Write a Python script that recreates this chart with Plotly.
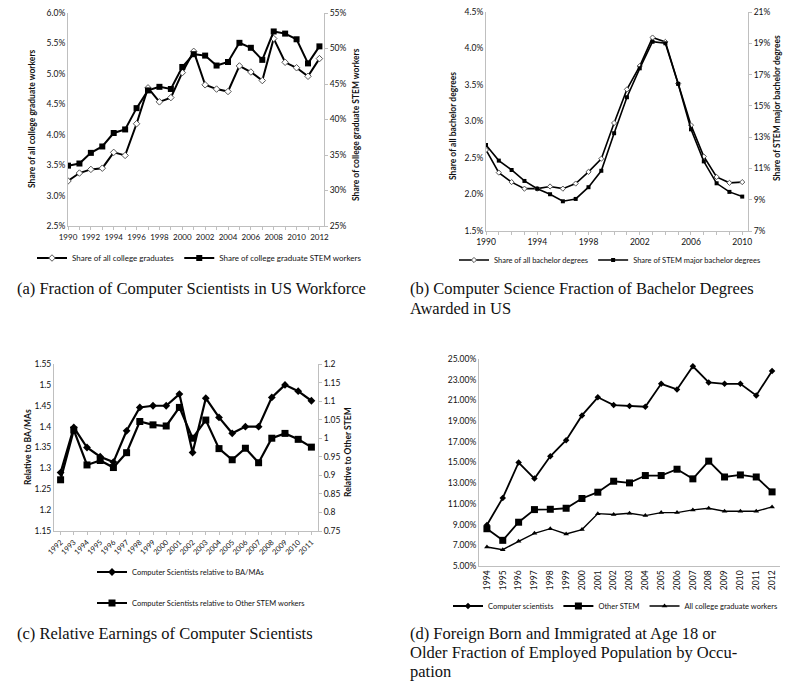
import plotly.graph_objects as go

# ---------------- data ----------------
# (a) Fraction of Computer Scientists in US Workforce
years_a = list(range(1990, 2013))
share_all_grad = [3.24, 3.37, 3.43, 3.45, 3.71, 3.66, 4.18, 4.77, 4.54, 4.61, 5.02, 5.37,
                  4.82, 4.75, 4.71, 5.13, 5.03, 4.89, 5.58, 5.19, 5.10, 4.96, 5.25]
share_stem_workers = [33.5, 33.8, 35.3, 36.2, 38.1, 38.6, 41.6, 44.1, 44.6, 44.3, 47.4, 49.2,
                      49.0, 47.6, 48.1, 50.8, 50.1, 48.4, 52.4, 52.1, 51.3, 47.9, 50.3]

# (b) Computer Science Fraction of Bachelor Degrees
years_b = list(range(1990, 2011))
share_all_ba = [2.61, 2.30, 2.17, 2.08, 2.08, 2.11, 2.08, 2.15, 2.31, 2.49, 2.98, 3.44,
                3.76, 4.15, 4.09, 3.52, 2.95, 2.52, 2.24, 2.16, 2.17]
share_stem_ba = [12.5, 11.5, 10.9, 10.2, 9.7, 9.35, 8.9, 9.05, 9.8, 10.85, 13.25, 15.55,
                 17.4, 19.1, 19.0, 16.4, 13.5, 11.45, 10.05, 9.5, 9.2]

# (c) Relative Earnings of Computer Scientists
years_c = [str(y) for y in range(1992, 2012)]
rel_ba_ma = [1.29, 1.398, 1.35, 1.328, 1.315, 1.39, 1.446, 1.45, 1.45, 1.478, 1.338, 1.468,
             1.422, 1.384, 1.40, 1.40, 1.47, 1.50, 1.485, 1.462]
rel_other_stem = [0.888, 1.022, 0.928, 0.94, 0.921, 0.961, 1.045, 1.036, 1.033, 1.083, 1.0,
                  1.049, 0.972, 0.942, 0.973, 0.934, 1.0, 1.013, 0.997, 0.976]

# (d) Foreign born fraction by occupation
years_d = [str(y) for y in range(1994, 2013)]
comp_sci = [8.96, 11.58, 15.0, 13.45, 15.6, 17.16, 19.55, 21.3, 20.55, 20.45, 20.39, 22.6,
            22.06, 24.3, 22.74, 22.6, 22.6, 21.48, 23.84]
other_stem = [8.6, 7.48, 9.23, 10.45, 10.48, 10.58, 11.52, 12.13, 13.19, 13.03, 13.74, 13.74,
              14.35, 13.42, 15.13, 13.6, 13.8, 13.6, 12.16]
all_grad_workers = [6.84, 6.58, 7.39, 8.16, 8.61, 8.1, 8.52, 10.06, 9.97, 10.1, 9.87, 10.16,
                    10.16, 10.42, 10.58, 10.29, 10.29, 10.29, 10.71]

# ---------------- helpers ----------------
W, H = 800, 687


def px(x):
    return x / W


def py(y):
    return 1 - y / H


SANS = "Lato, Roboto, Arial, sans-serif"
SERIF = "'Liberation Serif', 'Times New Roman', serif"
AX = "#bfbfbf"
TXT = "#111111"

fig = go.Figure()

line_k = dict(color="black", width=2)

# (a)
fig.add_trace(go.Scatter(x=years_a, y=share_all_grad, mode="lines+markers", name="Share of all college graduates",
                         line=line_k, marker=dict(symbol="diamond", size=5, color="white",
                                                  line=dict(color="#555", width=1)),
                         xaxis="x", yaxis="y", legend="legend"))
fig.add_trace(go.Scatter(x=years_a, y=share_stem_workers, mode="lines+markers",
                         name="Share of college graduate STEM workers",
                         line=line_k, marker=dict(symbol="square", size=6, color="black"),
                         xaxis="x", yaxis="y2", legend="legend"))
# (b)
fig.add_trace(go.Scatter(x=years_b, y=share_all_ba, mode="lines+markers", name="Share of all bachelor degrees",
                         line=dict(color="black", width=1.6),
                         marker=dict(symbol="diamond", size=4, color="white", line=dict(color="#555", width=1)),
                         xaxis="x2", yaxis="y3", legend="legend2"))
fig.add_trace(go.Scatter(x=years_b, y=share_stem_ba, mode="lines+markers",
                         name="Share of STEM major bachelor degrees",
                         line=dict(color="black", width=1.6), marker=dict(symbol="square", size=4, color="black"),
                         xaxis="x2", yaxis="y4", legend="legend2"))
# (c)
fig.add_trace(go.Scatter(x=years_c, y=rel_ba_ma, mode="lines+markers", name="Computer Scientists relative to BA/MAs",
                         line=dict(color="black", width=2.2),
                         marker=dict(symbol="diamond", size=6, color="black"),
                         xaxis="x3", yaxis="y5", legend="legend3"))
fig.add_trace(go.Scatter(x=years_c, y=rel_other_stem, mode="lines+markers",
                         name="Computer Scientists relative to Other STEM workers",
                         line=dict(color="black", width=2.2), marker=dict(symbol="square", size=7, color="black"),
                         xaxis="x3", yaxis="y6", legend="legend4"))
# (d)
fig.add_trace(go.Scatter(x=years_d, y=comp_sci, mode="lines+markers", name="Computer scientists",
                         line=dict(color="black", width=1.8),
                         marker=dict(symbol="diamond", size=5, color="black"),
                         xaxis="x4", yaxis="y7", legend="legend5"))
fig.add_trace(go.Scatter(x=years_d, y=other_stem, mode="lines+markers", name="Other STEM",
                         line=dict(color="black", width=1.8), marker=dict(symbol="square", size=7, color="black"),
                         xaxis="x4", yaxis="y7", legend="legend5"))
fig.add_trace(go.Scatter(x=years_d, y=all_grad_workers, mode="lines+markers", name="All college graduate workers",
                         line=dict(color="black", width=1.4),
                         marker=dict(symbol="triangle-up", size=5, color="black"),
                         xaxis="x4", yaxis="y7", legend="legend5"))

tickfont = dict(family=SANS, size=8.5, color=TXT)
base_ax = dict(showgrid=False, zeroline=False, showline=True, linecolor=AX, linewidth=1,
               ticks="outside", ticklen=3, tickcolor=AX, tickfont=tickfont)

layout = dict(
    width=W, height=H, margin=dict(l=0, r=0, t=0, b=0, autoexpand=False), autosize=False,
    paper_bgcolor="white", plot_bgcolor="white", showlegend=True,
    # (a)
    xaxis=dict(base_ax, domain=[px(68), px(324)], anchor="y", range=[1990, 2012.4], dtick=2, tick0=1990,
               tickangle=0, tickfont=dict(family=SANS, size=8, color=TXT),
               minor=dict(dtick=1, ticks="outside", ticklen=3, tickcolor=AX)),
    yaxis=dict(base_ax, domain=[py(226), py(13)], anchor="x", range=[2.5, 6.0], dtick=0.5,
               tickformat=".1f", ticksuffix="%", ticks=""),
    yaxis2=dict(base_ax, overlaying="y", anchor="x", side="right", range=[25, 55], dtick=5,
                ticksuffix="%"),
    # (b)
    xaxis2=dict(base_ax, domain=[px(486), px(748)], anchor="y3", range=[1990, 2010.45], dtick=4, tick0=1990,
                tickangle=0,
                minor=dict(dtick=1, ticks="outside", ticklen=3, tickcolor=AX)),
    yaxis3=dict(base_ax, domain=[py(231), py(12)], anchor="x2", range=[1.5, 4.5], dtick=0.5,
                tickformat=".1f", ticksuffix="%", ticks=""),
    yaxis4=dict(base_ax, overlaying="y3", anchor="x2", side="right", range=[7, 21], dtick=2, tick0=7,
                ticksuffix="%"),
    # (c)
    xaxis3=dict(base_ax, domain=[px(54), px(318)], anchor="y5", type="category", range=[-0.5, 19.5],
                tickmode="linear", dtick=1, tick0=0,
                tickangle=-45, tickfont=dict(family=SANS, size=7.5, color=TXT)),
    yaxis5=dict(base_ax, domain=[py(531), py(364)], anchor="x3", range=[1.15, 1.55], dtick=0.05,
                tick0=1.15, ticks=""),
    yaxis6=dict(base_ax, overlaying="y5", anchor="x3", side="right", range=[0.75, 1.2], dtick=0.05,
                tick0=0.75),
    # (d)
    xaxis4=dict(base_ax, domain=[px(479), px(780)], anchor="y7", type="category", range=[-0.5, 18.5],
                tickmode="linear", dtick=1, tick0=0,
                tickangle=-90, ticks=""),
    yaxis7=dict(base_ax, domain=[py(566), py(359)], anchor="x4", range=[5, 25], dtick=2, tick0=5,
                tickformat=".2f", ticksuffix="%", ticks=""),
)

leg_common = dict(orientation="h", bgcolor="rgba(0,0,0,0)", font=dict(family=SANS, size=8, color=TXT),
                  xanchor="left", yanchor="middle", itemwidth=30, tracegroupgap=0)
layout["legend"] = dict(leg_common, x=px(32), y=py(258))
layout["legend2"] = dict(leg_common, x=px(454), y=py(260), font=dict(family=SANS, size=7.5, color=TXT))
layout["legend3"] = dict(leg_common, x=px(92), y=py(572), font=dict(family=SANS, size=7.5, color=TXT))
layout["legend4"] = dict(leg_common, x=px(92), y=py(603), font=dict(family=SANS, size=7.5, color=TXT))
layout["legend5"] = dict(leg_common, x=px(448), y=py(606), font=dict(family=SANS, size=7.5, color=TXT))

fig.update_layout(**layout)

ann = []
title_font = dict(family=SANS, size=8.5, color=TXT)


def vtitle(text, x, y):
    ann.append(dict(text="<b>%s</b>" % text, x=px(x), y=py(y), xref="paper", yref="paper",
                    textangle=-90, showarrow=False, font=title_font, xanchor="center", yanchor="middle"))


vtitle("Share of all college graduate workers", 32, 119)
vtitle("Share of college graduate STEM workers", 356, 125)
vtitle("Share of all bachelor degrees", 453, 126)
vtitle("Share of STEM major bachelor degrees", 777, 108)
vtitle("Relative to BA/MAs", 28, 447)
vtitle("Relative to Other STEM", 348, 452)

cap_font = dict(family=SERIF, size=16.5, color="#111")


def caption(text, x, y):
    ann.append(dict(text=text, x=px(x), y=py(y), xref="paper", yref="paper", showarrow=False,
                    font=cap_font, xanchor="left", yanchor="middle", align="left"))


caption("(a) Fraction of Computer Scientists in US Workforce", 15, 288)
caption("(b) Computer Science Fraction of Bachelor Degrees", 408, 288)
caption("Awarded in US", 408, 308)
caption("(c) Relative Earnings of Computer Scientists", 15, 633)
caption("(d) Foreign Born and Immigrated at Age 18 or", 408, 633)
caption("Older Fraction of Employed Population by Occu-", 408, 652)
caption("pation", 408, 671)

fig.update_layout(annotations=ann)
fig.write_html("out.html", config={"displayModeBar": False},
               post_script="document.body.style.margin='0px';")
